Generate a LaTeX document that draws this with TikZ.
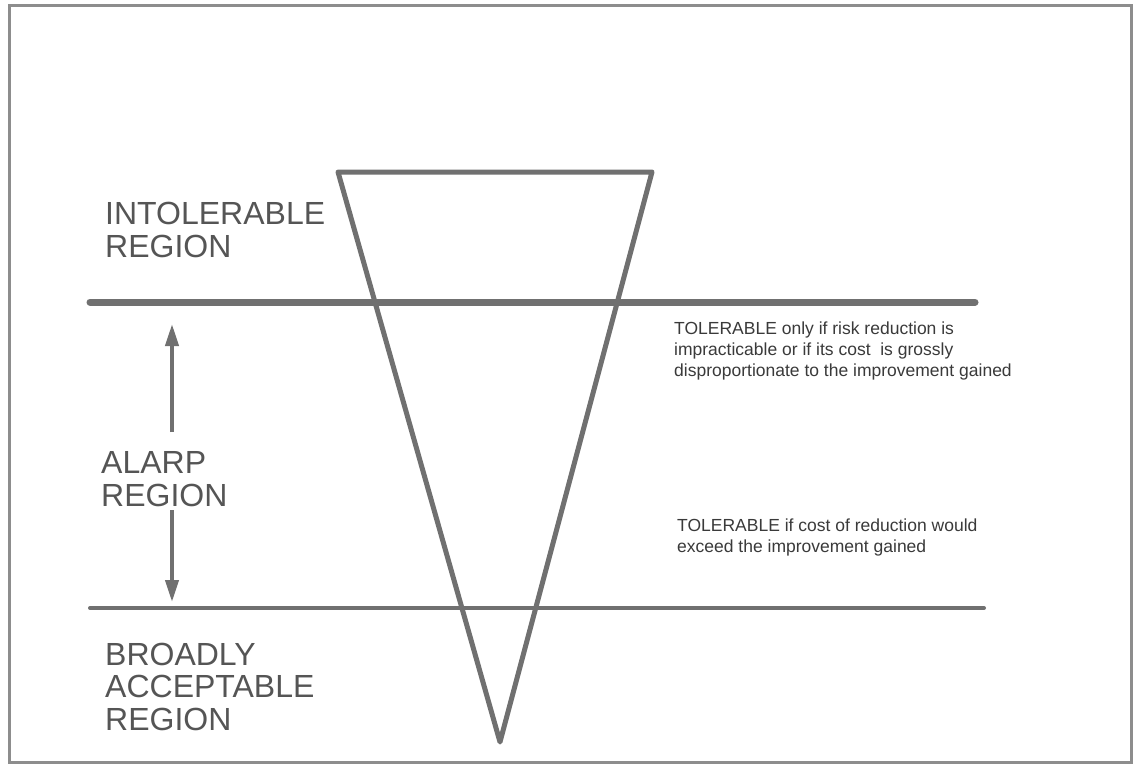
\documentclass[tikz,border=0pt]{standalone}
\usepackage{fontspec}
\setmainfont{Liberation Sans}
\usetikzlibrary{arrows.meta}
\definecolor{rulegray}{HTML}{707070}
\definecolor{biglabel}{HTML}{555555}
\definecolor{notegray}{HTML}{3A3A3A}
\begin{document}
\begin{tikzpicture}[x=1pt,y=-1pt,
  frame/.style={draw=rulegray!80,line width=3pt},
  funnel/.style={draw=rulegray,line width=5pt,line join=round},
  level/.style={draw=rulegray,line cap=round},
  region/.style={anchor=base west,inner sep=0pt,align=left,text=biglabel,
    font=\fontsize{32}{32.5}\selectfont},
  note/.style={anchor=base west,inner sep=0pt,align=left,text=notegray,
    font=\fontsize{17.5}{21}\selectfont},
  span/.style={draw=rulegray,line width=4pt,
    -{Triangle[length=22pt,width=13pt]}}]
\useasboundingbox (0,0) rectangle (1133,764);
\fill[white] (0,0) rectangle (1133,764);
% outer frame
\draw[frame] (9,5) rectangle (1131,762);

% inverted risk triangle
\coordinate (tl) at (338,172);
\coordinate (tr) at (652,172);
\coordinate (apex) at (500,742);
\draw[funnel] (tl) -- (tr) -- (apex) -- cycle;

% region boundaries
\coordinate (upL) at (90,302);
\coordinate (upR) at (975,302);
\coordinate (loL) at (90,608);
\coordinate (loR) at (984,608);
\draw[level,line width=7pt] (upL) -- (upR);
\draw[level,line width=4pt] (loL) -- (loR);

% region labels (anchored on the baseline of the last line)
\node[region] (intol) at (105,257) {INTOLERABLE\\REGION};
\node[region] (alarp) at (101,506) {ALARP\\REGION};
\node[region] (broad) at (105,730) {BROADLY\\ACCEPTABLE\\REGION};

% span of the ALARP region
\coordinate (upTip) at (172,324);
\coordinate (upTail) at (172,432);
\coordinate (dnTail) at (172,510);
\coordinate (dnTip) at (172,602);
\draw[span] (upTail) -- (upTip);
\draw[span] (dnTail) -- (dnTip);

% tolerability notes
\node[note] (noteA) at (674,376) {TOLERABLE only if risk reduction is\\impracticable or if its cost\ \ is grossly\\disproportionate to the improvement gained};
\node[note] (noteB) at (677,552) {TOLERABLE if cost of reduction would\\exceed the improvement gained};
\end{tikzpicture}
\end{document}
